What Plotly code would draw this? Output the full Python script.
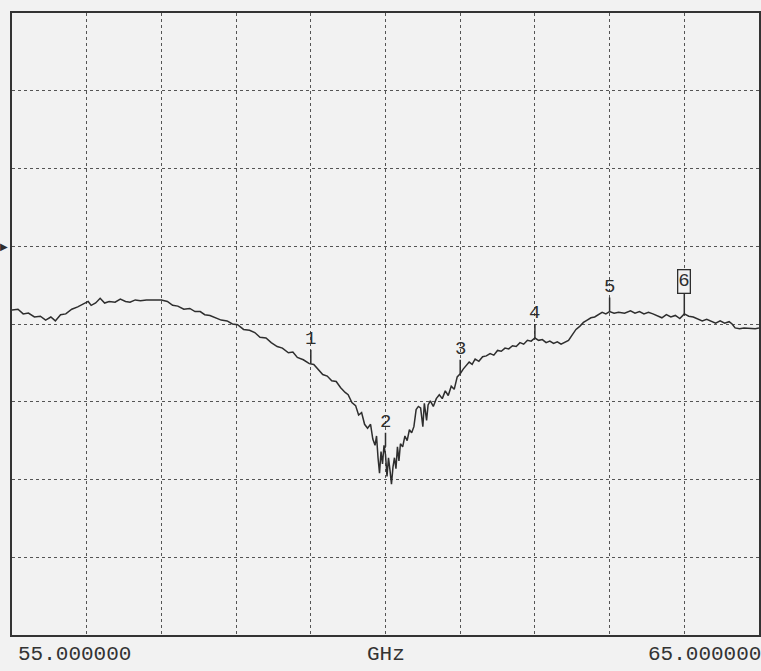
import plotly.graph_objects as go

# Trace: frequency (GHz) and response (dB, 5 dB/div, reference line = 0 dB)
freq_ghz = [
    55.00, 55.08, 55.15, 55.22, 55.30, 55.38, 55.45, 55.52, 55.58, 55.65, 55.72, 55.80, 55.88, 55.95,
    56.02, 56.06, 56.12, 56.18, 56.24, 56.30, 56.38, 56.45, 56.52, 56.58, 56.65, 56.72, 56.80, 56.90,
    57.00, 57.08, 57.15, 57.22, 57.30, 57.38, 57.45, 57.52, 57.58, 57.65, 57.72, 57.80, 57.88, 57.95,
    58.02, 58.10, 58.18, 58.25, 58.32, 58.40, 58.47, 58.55, 58.62, 58.70, 58.76, 58.82, 58.90, 58.98,
    59.04, 59.10, 59.16, 59.22, 59.28, 59.34, 59.40, 59.46, 59.50, 59.55, 59.60, 59.64, 59.68, 59.72,
    59.76, 59.80, 59.83, 59.86, 59.88, 59.90, 59.92, 59.94, 59.96, 59.98, 60.00, 60.02, 60.04, 60.06,
    60.08, 60.10, 60.12, 60.14, 60.16, 60.18, 60.20, 60.23, 60.26, 60.29, 60.32, 60.35, 60.38, 60.41,
    60.44, 60.47, 60.50, 60.52, 60.55, 60.57, 60.60, 60.64, 60.68, 60.72, 60.76, 60.80, 60.84, 60.88,
    60.92, 60.96, 61.00, 61.04, 61.08, 61.12, 61.16, 61.20, 61.25, 61.30, 61.35, 61.40, 61.45, 61.50,
    61.55, 61.60, 61.65, 61.70, 61.75, 61.80, 61.85, 61.90, 61.95, 62.00, 62.05, 62.10, 62.15, 62.20,
    62.25, 62.30, 62.35, 62.40, 62.45, 62.50, 62.55, 62.60, 62.65, 62.70, 62.75, 62.80, 62.85, 62.90,
    62.95, 63.00, 63.06, 63.12, 63.20, 63.28, 63.34, 63.40, 63.46, 63.52, 63.58, 63.64, 63.70, 63.76,
    63.82, 63.88, 63.94, 64.00, 64.06, 64.12, 64.18, 64.24, 64.30, 64.36, 64.42, 64.48, 64.54, 64.60,
    64.64, 64.68, 64.74, 64.80, 64.88, 64.95, 65.00,
]
response_db = [
    -4.10, -4.05, -4.35, -4.30, -4.55, -4.50, -4.75, -4.55, -4.80, -4.40, -4.35, -4.05, -3.90, -3.75,
    -3.55, -3.80, -3.65, -3.35, -3.65, -3.55, -3.60, -3.40, -3.55, -3.60, -3.45, -3.50, -3.45, -3.45,
    -3.45, -3.55, -3.80, -3.85, -4.05, -4.00, -4.20, -4.20, -4.40, -4.45, -4.60, -4.75, -4.80, -5.00,
    -5.05, -5.35, -5.40, -5.55, -5.85, -5.90, -6.20, -6.45, -6.55, -6.85, -6.80, -7.15, -7.30, -7.55,
    -7.60, -7.95, -8.25, -8.35, -8.65, -8.70, -9.10, -9.40, -9.55, -10.05, -10.25, -10.85, -10.70, -11.45,
    -11.70, -11.45, -12.40, -12.80, -12.20, -13.60, -14.60, -13.20, -14.00, -12.80, -13.40, -14.80, -13.60, -14.40,
    -15.30, -14.20, -13.60, -14.30, -12.90, -13.80, -12.70, -12.90, -12.20, -12.50, -11.80, -12.00, -11.60, -10.50,
    -10.30, -10.40, -11.60, -10.10, -11.20, -10.20, -9.95, -10.30, -9.80, -9.55, -9.80, -9.30, -9.60, -9.00,
    -9.20, -8.40, -8.20, -7.90, -7.70, -7.45, -7.60, -7.25, -7.40, -7.10, -7.05, -6.90, -7.00, -6.70,
    -6.75, -6.55, -6.60, -6.40, -6.45, -6.20, -6.30, -6.05, -6.10, -5.90, -6.05, -6.00, -6.20, -6.10,
    -6.25, -6.15, -6.30, -6.20, -6.05, -5.70, -5.35, -5.15, -4.90, -4.75, -4.60, -4.55, -4.40, -4.25,
    -4.35, -4.20, -4.30, -4.25, -4.30, -4.15, -4.30, -4.20, -4.35, -4.25, -4.35, -4.50, -4.60, -4.40,
    -4.55, -4.45, -4.65, -4.35, -4.50, -4.55, -4.70, -4.80, -4.70, -4.85, -4.95, -4.80, -4.95, -4.85,
    -5.00, -5.25, -5.30, -5.25, -5.30, -5.30, -5.25,
]

# Markers
marker_labels = ["1", "2", "3", "4", "5", "6"]
marker_freq = [59.0, 60.0, 61.0, 62.0, 63.0, 64.0]
marker_db = [-7.55, -12.9, -8.20, -5.90, -4.20, -4.35]
active_marker = "6"

# Axis text
x_start_label = "55.000000"
x_stop_label = "65.000000"
x_unit_label = "GHz"

INK = "#2e2e2e"
PAPER = "#f2f2f2"

fig = go.Figure()
fig.add_trace(go.Scatter(
    x=freq_ghz, y=response_db, mode="lines",
    line=dict(color=INK, width=1.5), hoverinfo="skip", showlegend=False,
))

for lab, f, v in zip(marker_labels, marker_freq, marker_db):
    boxed = lab == active_marker
    fig.add_annotation(
        x=f, y=v, xref="x", yref="y", text=lab,
        showarrow=True, arrowhead=0, arrowwidth=1.5, arrowcolor=INK,
        ax=0, ay=-14 if not boxed else -20, standoff=0,
        font=dict(family="Liberation Mono", size=19, color=INK),
        bordercolor=INK if boxed else "rgba(0,0,0,0)", borderwidth=1.3 if boxed else 0,
        borderpad=0, bgcolor=PAPER if boxed else "rgba(0,0,0,0)",
        yanchor="bottom",
    )

# Reference-level pointer
fig.add_annotation(x=0, xref="paper", y=0, yref="y", text="▶", showarrow=False,
                   xanchor="right", xshift=-2, font=dict(size=10, color=INK))

axis_font = dict(family="Liberation Mono", size=21, color="#333333")
fig.add_annotation(x=0, xref="paper", y=0, yref="paper", text=x_start_label, showarrow=False,
                   xanchor="left", yanchor="top", xshift=4, yshift=-6, font=axis_font)
fig.add_annotation(x=0.5, xref="paper", y=0, yref="paper", text=x_unit_label, showarrow=False,
                   xanchor="center", yanchor="top", yshift=-6, font=axis_font)
fig.add_annotation(x=1, xref="paper", y=0, yref="paper", text=x_stop_label, showarrow=False,
                   xanchor="right", yanchor="top", xshift=4, yshift=-6, font=axis_font)

fig.update_xaxes(range=[55, 65], dtick=1, tick0=55, showticklabels=False, ticks="",
                 showgrid=True, gridcolor="#555555", griddash="dot", gridwidth=1.2,
                 showline=True, mirror=True, linecolor="#333333", linewidth=2, zeroline=False,
                 fixedrange=True)
fig.update_yaxes(range=[-25, 15], dtick=5, tick0=-25, showticklabels=False, ticks="",
                 showgrid=True, gridcolor="#555555", griddash="dot", gridwidth=1.2,
                 showline=True, mirror=True, linecolor="#333333", linewidth=2, zeroline=False,
                 fixedrange=True)

fig.update_layout(
    width=761, height=671,
    margin=dict(l=12, r=0, t=13, b=36),
    paper_bgcolor=PAPER, plot_bgcolor=PAPER,
    showlegend=False,
)

fig.write_html(
    "out.html",
    config={"displayModeBar": False},
    post_script="document.body.style.margin='0';document.body.style.overflow='hidden';",
)
